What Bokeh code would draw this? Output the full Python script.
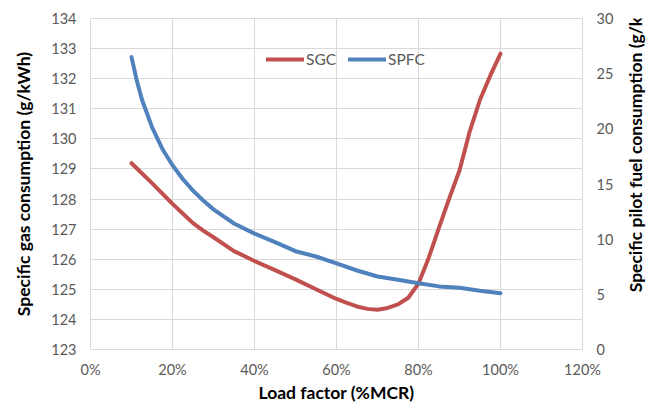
import math
from bokeh.plotting import figure
from bokeh.layouts import row
from bokeh.models import Range1d, LinearAxis, FixedTicker, Legend, LegendItem
from bokeh.core.properties import value
from bokeh.embed import file_html
from bokeh.resources import INLINE

# Data
load_sgc = [0.10, 0.15, 0.20, 0.225, 0.25, 0.275, 0.30, 0.35, 0.40, 0.45, 0.50,
            0.55, 0.60, 0.625, 0.65, 0.675, 0.70, 0.725, 0.75, 0.775, 0.80,
            0.825, 0.85, 0.875, 0.90, 0.925, 0.95, 0.975, 1.00]
sgc = [129.19, 128.53, 127.84, 127.52, 127.2, 126.95, 126.73, 126.27, 125.94,
       125.64, 125.33, 125.0, 124.68, 124.55, 124.43, 124.35, 124.32, 124.38,
       124.5, 124.72, 125.19, 126.05, 127.05, 128.02, 128.95, 130.25, 131.3,
       132.1, 132.83]

load_spfc = [0.10, 0.1125, 0.125, 0.15, 0.175, 0.20, 0.225, 0.25, 0.275, 0.30,
             0.35, 0.40, 0.45, 0.50, 0.55, 0.60, 0.65, 0.70, 0.75, 0.80, 0.85,
             0.90, 0.95, 1.00]
spfc = [26.5, 24.45, 22.7, 20.15, 18.2, 16.7, 15.45, 14.4, 13.5, 12.7, 11.42,
        10.5, 9.73, 8.91, 8.43, 7.8, 7.16, 6.62, 6.32, 6.0, 5.72, 5.6, 5.32, 5.1]

x_ticks = [0.0, 0.2, 0.4, 0.6, 0.8, 1.0, 1.2]
x_tick_labels = ["0%", "20%", "40%", "60%", "80%", "100%", "120%"]
left_ticks = list(range(123, 135))
right_ticks = [0, 5, 10, 15, 20, 25, 30]

x_title = "Load factor (%MCR)"
left_title = "Specific gas consumption (g/kWh)"
right_title = "Specific pilot fuel consumption (g/kWh)"

FONT = "Lato"
TICK_COLOR = "#595959"
GRID = "#d9d9d9"
RED = "#C0504D"
BLUE = "#4F81BD"
TITLE_SIZE = "17.5px"
TICK_SIZE = "14.5px"

TOTAL_W, H = 650, 405
SIDE_W = 30               # strip holding the right-hand title
MAIN_W = TOTAL_W - SIDE_W
TOP, BOTTOM = 18, 56

p = figure(width=MAIN_W, height=H, output_backend="svg", toolbar_location=None,
           x_range=Range1d(0, 1.2), y_range=Range1d(123, 134),
           min_border_left=90, min_border_right=38, min_border_top=TOP,
           min_border_bottom=BOTTOM)
p.extra_y_ranges = {"right": Range1d(0, 30)}

p.outline_line_color = GRID
p.background_fill_color = "white"
p.border_fill_color = "white"

p.xgrid.ticker = FixedTicker(ticks=x_ticks)
p.ygrid.ticker = FixedTicker(ticks=left_ticks)
for g in (p.xgrid, p.ygrid):
    g.grid_line_color = GRID
    g.grid_line_width = 1

def style_axis(ax):
    ax.axis_line_color = None
    ax.major_tick_line_color = None
    ax.minor_tick_line_color = None
    ax.major_tick_in = 0
    ax.major_tick_out = 0
    ax.major_label_text_font = FONT
    ax.major_label_text_font_size = TICK_SIZE
    ax.major_label_text_color = TICK_COLOR
    ax.axis_label_text_font = FONT
    ax.axis_label_text_font_style = "bold"
    ax.axis_label_text_font_size = TITLE_SIZE
    ax.axis_label_text_color = "black"

xa = p.xaxis[0]
xa.ticker = FixedTicker(ticks=x_ticks)
xa.major_label_overrides = {t: l for t, l in zip(x_ticks, x_tick_labels)}
xa.axis_label = x_title
style_axis(xa)
xa.major_label_standoff = 11
xa.axis_label_standoff = 1

ya = p.yaxis[0]
ya.ticker = FixedTicker(ticks=left_ticks)
ya.axis_label = left_title
style_axis(ya)
ya.major_label_standoff = 14
ya.axis_label_standoff = 14

ra = LinearAxis(y_range_name="right", ticker=FixedTicker(ticks=right_ticks))
style_axis(ra)
ra.major_label_standoff = 14
p.add_layout(ra, "right")

r1 = p.line(load_sgc, sgc, line_color=RED, line_width=4, line_cap="round",
            line_join="round")
r2 = p.line(load_spfc, spfc, line_color=BLUE, line_width=4, line_cap="round",
            line_join="round", y_range_name="right")

legend = Legend(items=[LegendItem(label="SGC", renderers=[r1]),
                       LegendItem(label="SPFC", renderers=[r2])],
                orientation="horizontal", location=(176, 281))
legend.padding = 0
legend.margin = 0
legend.spacing = 12
legend.glyph_width = 38
legend.glyph_height = 18
legend.label_standoff = 2
legend.border_line_color = None
legend.background_fill_alpha = 0
legend.label_text_font = FONT
legend.label_text_font_size = "15.5px"
legend.label_text_color = TICK_COLOR
legend.label_height = 18
p.add_layout(legend, "center")

# narrow strip to the right holding the right-axis title (reads bottom-to-top)
q = figure(width=SIDE_W, height=H, output_backend="svg", toolbar_location=None,
           x_range=Range1d(0, SIDE_W), y_range=Range1d(H, 0),
           x_axis_type=None, y_axis_type=None, min_border=0)
q.grid.visible = False
q.outline_line_color = None
q.background_fill_color = "white"
q.border_fill_color = "white"
# anchor the title at its start (bottom end), a little above the frame bottom
title_start = H - BOTTOM - 14
q.text(x=[SIDE_W / 2], y=[title_start], text=[right_title], angle=math.pi / 2,
       text_align="left", text_baseline="middle",
       text_font=value(FONT), text_font_style="bold",
       text_font_size=TITLE_SIZE, text_color="black")

layout = row(p, q, spacing=0)
open("out.html", "w").write(file_html(layout, INLINE))
